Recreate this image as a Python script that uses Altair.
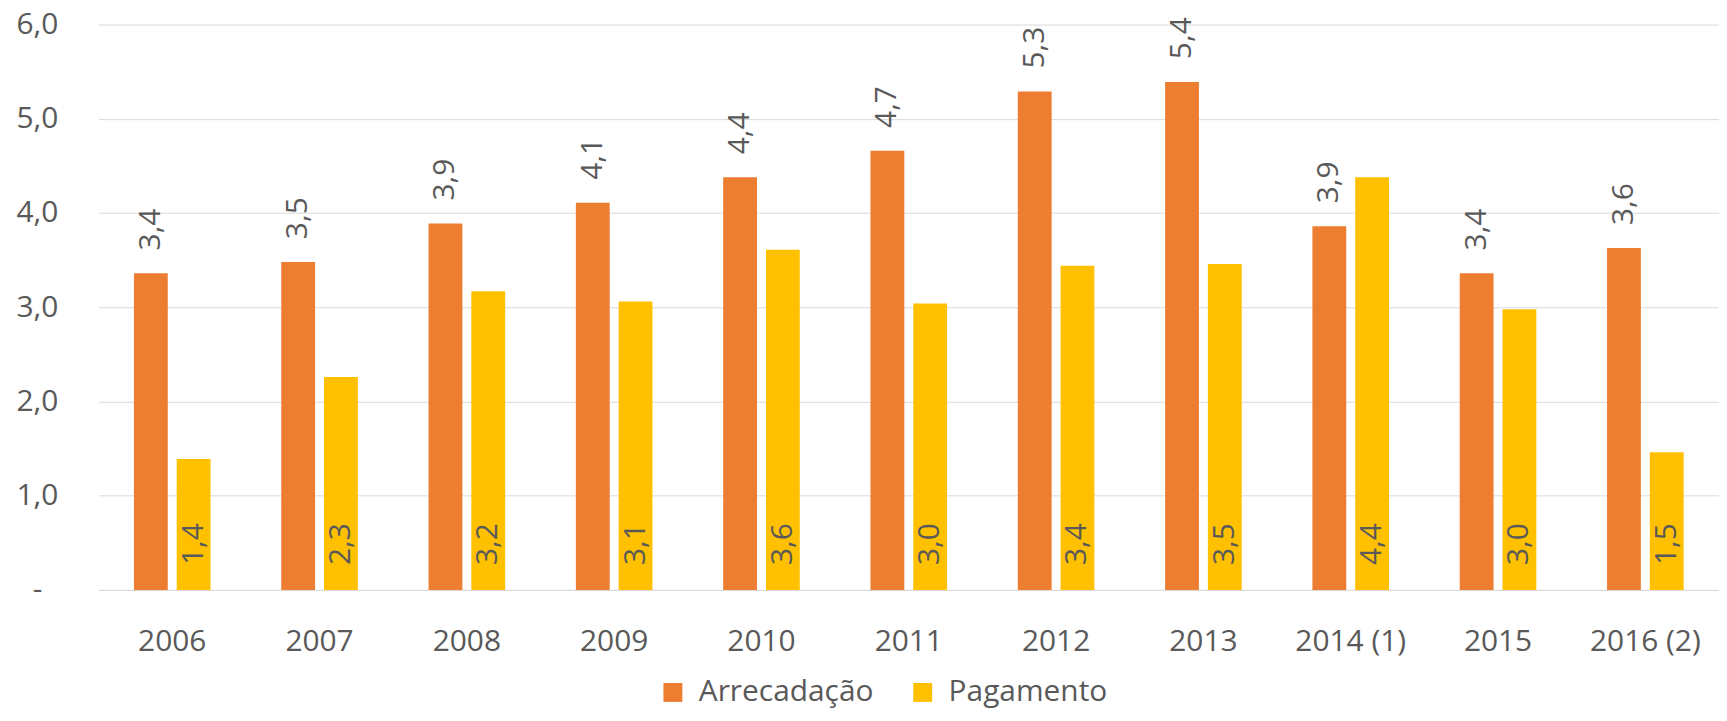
import altair as alt
import pandas as pd

# ---- data ----
years = ["2006", "2007", "2008", "2009", "2010", "2011", "2012", "2013",
         "2014 (1)", "2015", "2016 (2)"]
arrecadacao = [3.36, 3.48, 3.89, 4.11, 4.38, 4.66, 5.29, 5.39, 3.86, 3.36, 3.63]
pagamento = [1.39, 2.26, 3.17, 3.06, 3.61, 3.04, 3.44, 3.46, 4.38, 2.98, 1.46]
series = ["Arrecadação", "Pagamento"]
colors = ["#ED7D31", "#FFC000"]
y_ticks = [0, 1, 2, 3, 4, 5, 6]

rows = []
for i, yr in enumerate(years):
    rows.append({"ano": yr, "serie": series[0], "valor": arrecadacao[i]})
    rows.append({"ano": yr, "serie": series[1], "valor": pagamento[i]})
df = pd.DataFrame(rows)

FONT = "Open Sans"
TXT = "#595959"
GRID = "#D9D9D9"

x = alt.X(
    "ano:N", sort=years, title=None,
    scale=alt.Scale(paddingInner=0.48, paddingOuter=0.24),
    axis=alt.Axis(labelAngle=0, labelFontSize=30, labelFont=FONT, labelColor=TXT,
                  labelPadding=37, ticks=False, tickSize=0, domainColor=GRID,
                  domainWidth=1, grid=False, labelBaseline="top"),
)
xo = alt.XOffset("serie:N", sort=series,
                 scale=alt.Scale(domain=series, paddingInner=0.209, paddingOuter=0))
y = alt.Y(
    "valor:Q", title=None,
    scale=alt.Scale(domain=[0, 6], nice=False, zero=True),
    axis=alt.Axis(values=y_ticks,
                  labelExpr="datum.value == 0 ? '-' : replace(format(datum.value, '.1f'), '.', ',')",
                  labelFontSize=30, labelFont=FONT, labelColor=TXT,
                  labelPadding={"condition": {"test": "datum.value == 0", "value": 57},
                                "value": 41},
                  domain=False, ticks=False, tickSize=0, grid=True,
                  gridColor=GRID, gridWidth=1),
)
color = alt.Color(
    "serie:N", sort=series,
    scale=alt.Scale(domain=series, range=colors),
    legend=alt.Legend(title=None, orient="none", legendX=562, legendY=656,
                      direction="horizontal", symbolType="square", symbolSize=361,
                      symbolStrokeWidth=0, symbolOpacity=1, labelFontSize=30,
                      labelFont=FONT, labelColor=TXT, labelOffset=11, labelLimit=0,
                      columnPadding=34, padding=0),
)

base = alt.Chart(df)

bars = base.mark_bar().encode(x=x, xOffset=xo, y=y, color=color)

lbl = "replace(format(datum.valor, '.1f'), '.', ',')"

text_a = (
    base.transform_filter(alt.datum.serie == series[0])
    .transform_calculate(lbl=lbl)
    .mark_text(angle=270, align="left", baseline="middle", dx=23,
               fontSize=30, font=FONT, color=TXT)
    .encode(x=x, xOffset=xo, y=alt.Y("valor:Q"), text="lbl:N")
)

text_p = (
    base.transform_filter(alt.datum.serie == series[1])
    .transform_calculate(lbl=lbl)
    .mark_text(angle=270, align="left", baseline="middle", dx=25,
               fontSize=30, font=FONT, color=TXT)
    .encode(x=x, xOffset=xo, y=alt.datum(0), text="lbl:N")
)

chart = (
    alt.layer(bars, text_a, text_p)
    .properties(width=1628, height=568,
                padding={"left": 91, "top": 15, "right": 0, "bottom": 122},
                autosize=alt.AutoSizeParams(type="none"))
    .configure_view(stroke=None)
)

chart.save("out.html", embed_options={"renderer": "svg", "actions": False})
